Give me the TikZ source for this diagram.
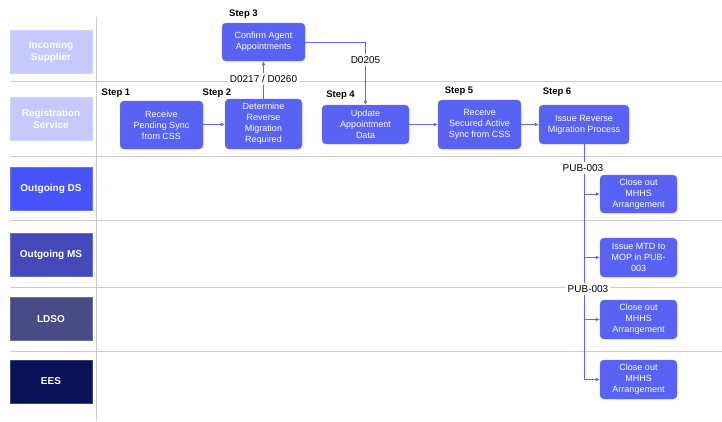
\documentclass[tikz,border=0pt]{standalone}
\usepackage{fontspec}
\setmainfont{Liberation Sans}
\usetikzlibrary{arrows.meta}
\definecolor{lanepale}{HTML}{C6C9FA}
\definecolor{laneds}{HTML}{4553F8}
\definecolor{lanems}{HTML}{4448B8}
\definecolor{laneldso}{HTML}{474C84}
\definecolor{laneees}{HTML}{0A1257}
\definecolor{procblue}{HTML}{5862F3}
\definecolor{flowline}{HTML}{5E66F2}
\tikzset{
  lane/.style={fill=#1, draw=#1!80!white, text=white, align=center, minimum width=82pt, minimum height=43pt, inner sep=1pt, font=\fontsize{10}{12}\selectfont\bfseries},
  proc/.style={fill=procblue, draw=procblue!85!white, rounded corners=4pt, text=white, align=center, inner sep=1pt, font=\fontsize{9}{11}\selectfont},
  steplabel/.style={font=\fontsize{9.5}{11}\selectfont\bfseries, text=black},
  msg/.style={fill=white, inner sep=2pt, font=\fontsize{10}{11}\selectfont},
  flow/.style={draw=flowline, line width=0.8pt, -{Latex[length=4pt,width=4pt]}}
}
\begin{document}
\begin{tikzpicture}[x=1pt, y=-1pt]
    \useasboundingbox (0,0) rectangle (722,421);
    % swimlane grid
    \foreach \ly in {81,156,220,287,351}
        \draw[gray!40, line width=1pt] (10,\ly) -- (722,\ly);
    \draw[gray!40, line width=1pt] (96,17) -- (96,421);

    % lane headers
    \node[lane=lanepale] (supplier) at (51,51.5) {Incoming\\Supplier};
    \node[lane=lanepale] (regserv) at (51,119) {Registration\\Service};
    \node[lane=laneds] (outds) at (51,188.5) {Outgoing DS};
    \node[lane=lanems] (outms) at (51,254.5) {Outgoing MS};
    \node[lane=laneldso] (ldso) at (51,319) {LDSO};
    \node[lane=laneees] (ees) at (51,381.5) {EES};

    % process steps
    \node[proc, minimum width=83pt, minimum height=48pt] (pendsync) at (161.5,125) {Receive\\Pending Sync\\from CSS};
    \node[proc, minimum width=77pt, minimum height=50pt] (determine) at (263.5,124) {Determine\\Reverse\\Migration\\Required};
    \node[proc, minimum width=83pt, minimum height=38pt] (confirm) at (263.5,42) {Confirm Agent\\Appointments};
    \node[proc, minimum width=87pt, minimum height=39pt] (update) at (365.5,124.5) {Update\\Appointment\\Data};
    \node[proc, minimum width=83pt, minimum height=49pt] (securedsync) at (479.5,124.5) {Receive\\Secured Active\\Sync from CSS};
    \node[proc, minimum width=90pt, minimum height=39pt] (issuerev) at (584,124.5) {Issue Reverse\\Migration Process};

    \node[proc, minimum width=77pt, minimum height=38pt] (closeds) at (638.5,194) {Close out\\MHHS\\Arrangement};
    \node[proc, minimum width=77pt, minimum height=39pt] (issuemtd) at (638.5,257.5) {Issue MTD to\\MOP in PUB-\\003};
    \node[proc, minimum width=77pt, minimum height=39pt] (closeldso) at (638.5,319.5) {Close out\\MHHS\\Arrangement};
    \node[proc, minimum width=77pt, minimum height=39pt] (closeees) at (638.5,379.5) {Close out\\MHHS\\Arrangement};

    % step labels
    \node[steplabel] (lbla) at (116,93) {Step 1};
    \node[steplabel] (lblb) at (217,93) {Step 2};
    \node[steplabel] (lblc) at (243.5,14) {Step 3};
    \node[steplabel] (lbld) at (340.5,95) {Step 4};
    \node[steplabel] (lble) at (459,91) {Step 5};
    \node[steplabel] (lblf) at (557,92) {Step 6};

    % flows
    \draw[flow] (pendsync) -- (determine);
    \draw[flow] (determine) -- (confirm);
    \draw[flow] (confirm.east) -| (update.north);
    \draw[flow] (update) -- (securedsync);
    \draw[flow] (securedsync) -- (issuerev);
    \foreach \tgt in {closeds,issuemtd,closeldso,closeees}
        \draw[flow] (issuerev.south) |- (\tgt.west);

    % message labels
    \node[msg] (dflowa) at (263.5,79) {D0217 / D0260};
    \node[msg] (dflowb) at (365.5,60) {D0205};
    \node[msg] (puba) at (583,168) {PUB-003};
    \node[msg] (pubb) at (588,289) {PUB-003};
\end{tikzpicture}
\end{document}
